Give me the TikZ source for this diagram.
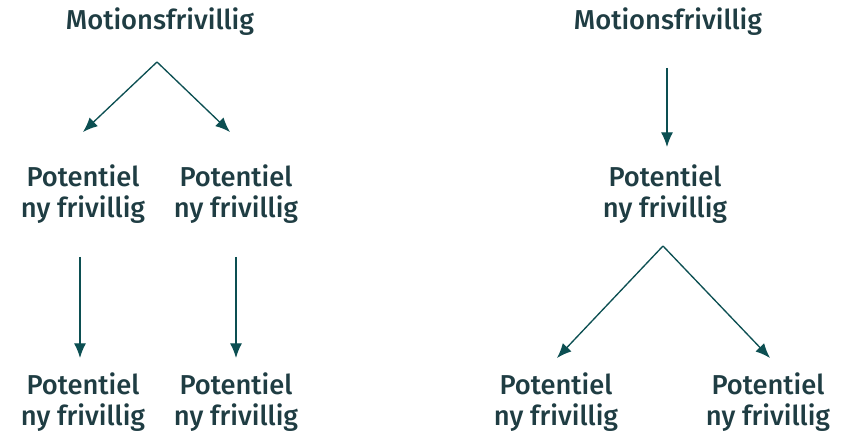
\documentclass[tikz,border=0pt]{standalone}
\usepackage{fontspec}
\setmainfont{Fira Sans}[UprightFont=* Medium]
\usetikzlibrary{arrows.meta,calc}
\definecolor{txtcol}{RGB}{31,61,67}
\definecolor{arrcol}{RGB}{12,79,82}
\tikzset{every picture/.style={line width=0.75pt}}
\tikzset{
  lbl/.style={inner sep=0.75pt,align=center,text=txtcol,font=\fontsize{20.5}{23}\selectfont},
  arr/.style={draw=arrcol,line width=1pt,-{Latex[length=11pt,width=9pt]}}
}

\begin{document}
\begin{tikzpicture}[x=0.75pt,y=0.75pt,yscale=-1,xscale=1]
\useasboundingbox (0,0) rectangle (847,434);

% Text Node
\node [lbl] (mA) at (160,22) {Motionsfrivillig};
% Text Node
\node [lbl] (pA1) at (83,194) {Potentiel\\ny frivillig};
% Text Node
\node [lbl] (pA2) at (236,194) {Potentiel\\ny frivillig};
% Text Node
\node [lbl] (qA1) at (83,402) {Potentiel\\ny frivillig};
% Text Node
\node [lbl] (qA2) at (236,402) {Potentiel\\ny frivillig};

% Text Node
\node [lbl] (mB) at (668,22) {Motionsfrivillig};
% Text Node
\node [lbl] (pB) at (665,194) {Potentiel\\ny frivillig};
% Text Node
\node [lbl] (qB1) at (556,402) {Potentiel\\ny frivillig};
% Text Node
\node [lbl] (qB2) at (768,402) {Potentiel\\ny frivillig};

%Straight Lines
\draw [arr] ($(mA)+(-3,40)$) -- ($(pA1)+(0,-62)$) ;
%Straight Lines
\draw [arr] ($(mA)+(-3,40)$) -- ($(pA2)+(-6,-62)$) ;
%Straight Lines
\draw [arr] ($(pA1)+(-3,63)$) -- ($(qA1)+(-3,-44)$) ;
%Straight Lines
\draw [arr] ($(pA2)+(0,63)$) -- ($(qA2)+(0,-44)$) ;

%Straight Lines
\draw [arr] ($(mB)+(-1,46)$) -- ($(pB)+(2,-47)$) ;
%Straight Lines
\draw [arr] ($(pB)+(-2,52)$) -- ($(qB1)+(1,-44)$) ;
%Straight Lines
\draw [arr] ($(pB)+(-2,52)$) -- ($(qB2)+(2,-44)$) ;

\end{tikzpicture}
\end{document}
